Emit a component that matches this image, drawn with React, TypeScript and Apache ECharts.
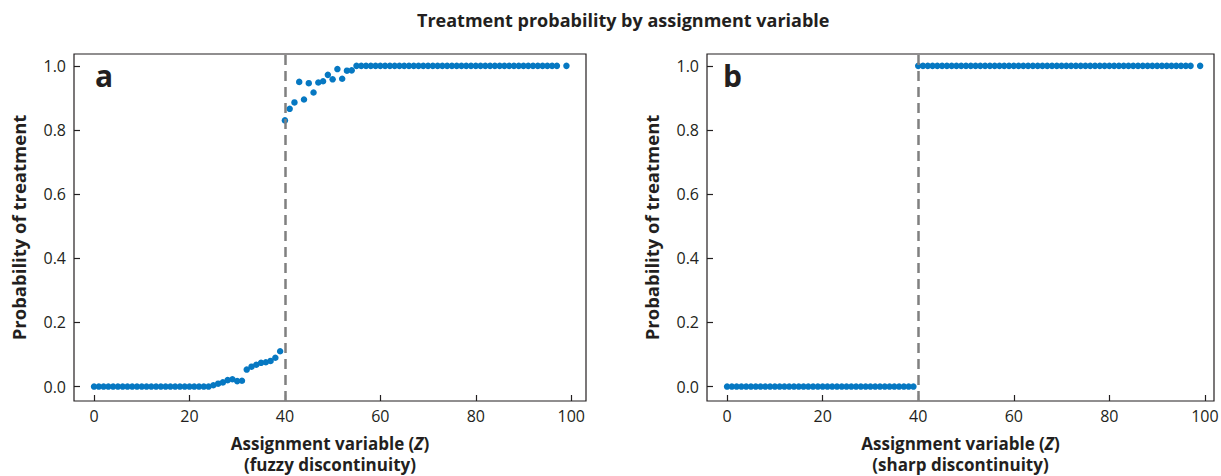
import { useEffect, useRef } from "react";
import * as echarts from "echarts";

const zValues = [
  0, 1, 2, 3, 4, 5, 6, 7, 8, 9, 10, 11, 12, 13, 14, 15, 16, 17, 18, 19,
  20, 21, 22, 23, 24, 25, 26, 27, 28, 29, 30, 31, 32, 33, 34, 35, 36, 37, 38, 39,
  40, 41, 42, 43, 44, 45, 46, 47, 48, 49, 50, 51, 52, 53, 54, 55, 56, 57, 58, 59,
  60, 61, 62, 63, 64, 65, 66, 67, 68, 69, 70, 71, 72, 73, 74, 75, 76, 77, 78, 79,
  80, 81, 82, 83, 84, 85, 86, 87, 88, 89, 90, 91, 92, 93, 94, 95, 96, 97, 99,
];

const fuzzyProb = [
  0, 0, 0, 0, 0, 0, 0, 0, 0, 0, 0, 0, 0, 0, 0, 0, 0, 0, 0, 0,
  0, 0, 0, 0, 0, 0.004, 0.009, 0.013, 0.02, 0.023, 0.017, 0.018, 0.053, 0.062, 0.068, 0.074, 0.076, 0.08, 0.09, 0.11,
  0.83, 0.866, 0.886, 0.95, 0.895, 0.946, 0.917, 0.948, 0.952, 0.972, 0.958, 0.99, 0.96, 0.985, 0.986, 1, 1, 1, 1, 1,
  1, 1, 1, 1, 1, 1, 1, 1, 1, 1, 1, 1, 1, 1, 1, 1, 1, 1, 1, 1,
  1, 1, 1, 1, 1, 1, 1, 1, 1, 1, 1, 1, 1, 1, 1, 1, 1, 1, 1,
];

const sharpProb = [
  0, 0, 0, 0, 0, 0, 0, 0, 0, 0, 0, 0, 0, 0, 0, 0, 0, 0, 0, 0,
  0, 0, 0, 0, 0, 0, 0, 0, 0, 0, 0, 0, 0, 0, 0, 0, 0, 0, 0, 0,
  1, 1, 1, 1, 1, 1, 1, 1, 1, 1, 1, 1, 1, 1, 1, 1, 1, 1, 1, 1,
  1, 1, 1, 1, 1, 1, 1, 1, 1, 1, 1, 1, 1, 1, 1, 1, 1, 1, 1, 1,
  1, 1, 1, 1, 1, 1, 1, 1, 1, 1, 1, 1, 1, 1, 1, 1, 1, 1, 1,
];

const xTicks = [0, 20, 40, 60, 80, 100];
const yTicks = [0, 0.2, 0.4, 0.6, 0.8, 1.0];
const cutoff = 40;
const titleText = "Treatment probability by assignment variable";
const panelLabels = ["a", "b"];
const xSubNames = ["(fuzzy discontinuity)", "(sharp discontinuity)"];
const yName = "Probability of treatment";

const INK = "#231f20";
const DOT = "#0678c2";
const FONT = "'Open Sans', 'Noto Sans', sans-serif";

export default function App() {
  const ref = useRef<HTMLDivElement>(null);

  useEffect(() => {
    if (!ref.current) return;
    const chart = echarts.init(ref.current, undefined, { renderer: "svg" });

    const grids = [
      { left: 74, top: 54, width: 512, height: 347 },
      { left: 707, top: 54, width: 507, height: 347 },
    ];
    const xMax = [103.1, 101.9];
    const probs = [fuzzyProb, sharpProb];
    const labelLeft = [95, 723];

    const nameStyle = { fontSize: 17, fontWeight: "bold", fontFamily: FONT, color: INK, lineHeight: 21 };

    const option: any = {
      animation: false,
      backgroundColor: "#ffffff",
      title: {
        text: titleText,
        left: 412,
        top: 6,
        textStyle: { fontSize: 18, fontWeight: "bold", fontFamily: FONT, color: INK },
      },
      grid: grids.map((g) => ({
        ...g,
        show: true,
        borderColor: INK,
        borderWidth: 1.2,
        backgroundColor: "transparent",
        containLabel: false,
        outerBoundsMode: "none",
      })),
      xAxis: grids.map((_, i) => ({
        type: "value",
        gridIndex: i,
        min: -4.2,
        max: xMax[i],
        axisLine: { show: false, onZero: false },
        axisTick: {
          show: true,
          inside: true,
          length: 6,
          customValues: xTicks,
          lineStyle: { color: INK, width: 1.2 },
        },
        axisLabel: {
          customValues: xTicks,
          fontSize: 16,
          fontFamily: FONT,
          color: INK,
          margin: 7,
        },
        splitLine: { show: false },
        name: `{b|Assignment variable (}{i|Z}{b|)}\n{b|${xSubNames[i]}}`,
        nameLocation: "middle",
        nameGap: 32,
        nameTextStyle: {
          lineHeight: 21,
          rich: {
            b: nameStyle,
            i: { ...nameStyle, fontStyle: "italic" },
          },
        },
      })),
      yAxis: grids.map((_, i) => ({
        type: "value",
        gridIndex: i,
        min: -0.045,
        max: 1.037,
        axisLine: { show: false, onZero: false },
        axisTick: {
          show: true,
          inside: true,
          length: 6,
          customValues: yTicks,
          lineStyle: { color: INK, width: 1.2 },
        },
        axisLabel: {
          customValues: yTicks,
          formatter: (v: number) => v.toFixed(1),
          fontSize: 16,
          fontFamily: FONT,
          color: INK,
          margin: 8,
        },
        splitLine: { show: false },
        name: yName,
        nameLocation: "middle",
        nameGap: 46,
        nameTextStyle: { fontSize: 18.5, fontWeight: "bold", fontFamily: FONT, color: INK },
      })),
      series: grids.map((_, i) => ({
        type: "scatter",
        xAxisIndex: i,
        yAxisIndex: i,
        symbolSize: 6.5,
        itemStyle: { color: DOT, opacity: 1 },
        data: zValues.map((z, k) => [z, probs[i][k]]),
        markLine: {
          silent: true,
          symbol: ["none", "none"],
          label: { show: false },
          lineStyle: { type: [10, 6], color: "#808080", width: 2.5 },
          data: [{ xAxis: cutoff }],
        },
      })),
      graphic: panelLabels.map((t, i) => ({
        type: "text",
        left: labelLeft[i],
        top: 60,
        style: { text: t, fontSize: 30, fontWeight: "bold", fontFamily: FONT, fill: INK },
      })),
    };

    chart.setOption(option);
    return () => chart.dispose();
  }, []);

  return (
    <div
      ref={ref}
      style={{ position: "fixed", left: 0, top: 0, width: 1221, height: 476, background: "#fff" }}
    />
  );
}
